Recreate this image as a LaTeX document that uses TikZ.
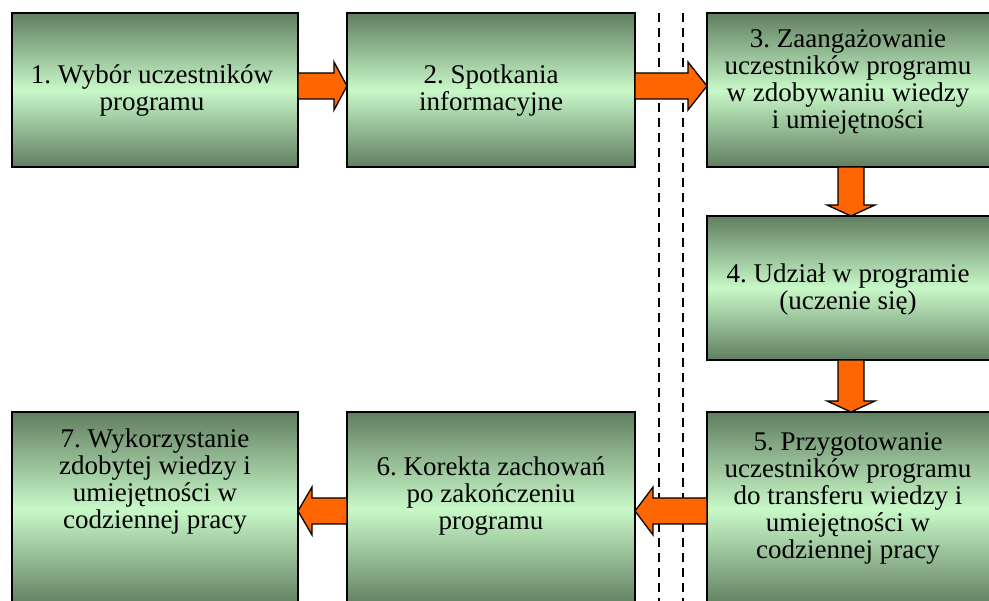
\documentclass[tikz,border=0pt]{standalone}
\usepackage{fontspec}
\setmainfont{Liberation Serif}
\frenchspacing
\usetikzlibrary{calc}
\definecolor{gdark}{RGB}{96,126,96}
\definecolor{glight}{RGB}{200,248,200}
\definecolor{arrorange}{RGB}{255,102,0}
\tikzset{
  stepbox/.style={draw=black, line width=2pt, top color=gdark, bottom color=gdark, middle color=glight},
  steptext/.style={align=center, font=\fontsize{27}{27}\selectfont},
  blockarr/.style={fill=arrorange, draw=black, line width=1.3pt, line join=miter},
  sepline/.style={draw=black, line width=1.4pt, dash pattern=on 9pt off 6pt}
}
\newcommand\blockarrow[3]{%
  \coordinate (ba-h) at ($(#2)!#3!(#1)$);
  \draw[blockarr] ($(#1)!13pt!90:(#2)$) -- ($(ba-h)!13pt!90:(#2)$) -- ($(ba-h)!24pt!90:(#2)$) -- (#2)
    -- ($(ba-h)!24pt!-90:(#2)$) -- ($(ba-h)!13pt!-90:(#2)$) -- ($(#1)!13pt!-90:(#2)$) -- cycle;}
\begin{document}
\begin{tikzpicture}[x=1pt,y=-1pt]
\useasboundingbox (0,0) rectangle (989,601);
\clip (0,0) rectangle (989,601);
% boxes
\path[stepbox] (12,13) rectangle (298,167);
\path[stepbox] (347,13) rectangle (635,167);
\path[stepbox] (707,13) rectangle (993,167);
\path[stepbox] (707,216) rectangle (993,360);
\path[stepbox] (707,412) rectangle (993,606);
\path[stepbox] (347,412) rectangle (635,606);
\path[stepbox] (12,412) rectangle (298,606);
% texts
\node[steptext] (b1) at (152,91) {1. Wybór uczestników\\programu};
\node[steptext] (b2) at (491,91) {2. Spotkania\\informacyjne};
\node[steptext] (b3) at (848,82) {3. Zaangażowanie\\uczestników programu\\w zdobywaniu wiedzy\\i umiejętności};
\node[steptext] (b4) at (848,290) {4. Udział w programie\\(uczenie się)};
\node[steptext] (b5) at (848,498) {5. Przygotowanie\\uczestników programu\\do transferu wiedzy i\\umiejętności w\\codziennej pracy};
\node[steptext] (b6) at (491,496) {6. Korekta zachowań\\po zakończeniu\\programu};
\node[steptext] (b7) at (155,482) {7. Wykorzystanie\\zdobytej wiedzy i\\umiejętności w\\codziennej pracy};
% separator lines
\coordinate (s1t) at (659,13); \coordinate (s1b) at (659,601);
\coordinate (s2t) at (683,13); \coordinate (s2b) at (683,601);
\draw[sepline] (s1t) -- (s1b);
\draw[sepline] (s2t) -- (s2b);
% arrows
\coordinate (a1s) at (298,86); \coordinate (a1e) at (347,86);
\coordinate (a2s) at (635,86); \coordinate (a2e) at (707,86);
\coordinate (a3s) at (851,167); \coordinate (a3e) at (851,216);
\coordinate (a4s) at (851,360); \coordinate (a4e) at (851,412);
\coordinate (a5s) at (707,511); \coordinate (a5e) at (635,511);
\coordinate (a6s) at (347,511); \coordinate (a6e) at (298,511);
\blockarrow{a1s}{a1e}{13pt}
\blockarrow{a2s}{a2e}{19pt}
\blockarrow{a3s}{a3e}{11pt}
\blockarrow{a4s}{a4e}{11pt}
\blockarrow{a5s}{a5e}{18pt}
\blockarrow{a6s}{a6e}{14pt}
\end{tikzpicture}
\end{document}
